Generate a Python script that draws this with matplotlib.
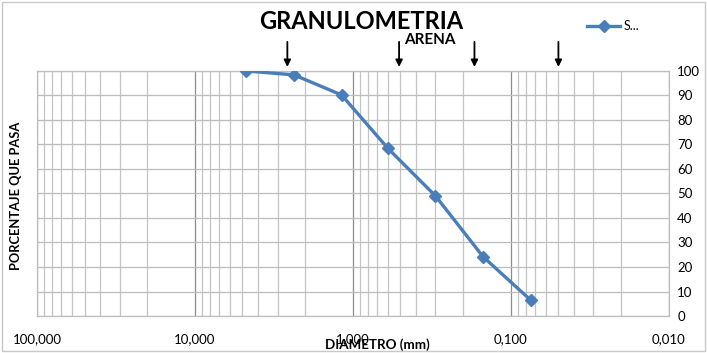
import numpy as np
import matplotlib
matplotlib.use('Agg')
import matplotlib.pyplot as plt
from matplotlib.ticker import FixedLocator, NullFormatter, LogLocator

plt.rcParams['font.family'] = ['Lato', 'DejaVu Sans']

# datos de la curva granulometrica
diametro = [4.75, 2.36, 1.18, 0.60, 0.30, 0.15, 0.075]
pasa = [100, 98.4, 90.2, 68.4, 49, 24.2, 6.5]
serie = 'S...'

x_ticks = [100, 10, 1, 0.1, 0.01]
x_labels = ['100,000', '10,000', '1,000', '0,100', '0,010']
y_ticks = list(range(0, 101, 10))
flechas = [2.6, 0.51, 0.17, 0.05]

fig = plt.figure(figsize=(7.07, 3.53), dpi=100)
ax = fig.add_axes([0.0523, 0.1048, 0.8937, 0.6942])

ax.plot(diametro, pasa, color='#4A7EBB', lw=2.4, marker='D', ms=6.5,
        label=serie, zorder=3)

ax.set_xscale('log')
ax.set_xlim(100, 0.01)
ax.set_ylim(0, 100)

ax.xaxis.set_major_locator(FixedLocator(x_ticks))
ax.set_xticklabels(x_labels)
ax.xaxis.set_minor_locator(LogLocator(base=10, subs=np.arange(2, 10)))
ax.xaxis.set_minor_formatter(NullFormatter())
ax.set_yticks(y_ticks)

ax.yaxis.tick_right()
ax.tick_params(axis='both', which='both', length=0, labelsize=9.5)
ax.tick_params(axis='x', pad=12)
ax.tick_params(axis='y', pad=6)

ax.grid(True, which='major', axis='x', color='#8c8c8c', lw=0.9)
ax.grid(True, which='minor', axis='x', color='#c4c4c4', lw=0.9)
ax.grid(True, which='major', axis='y', color='#bdbdbd', lw=0.9)
for s in ax.spines.values():
    s.set_color('#bdbdbd')
    s.set_linewidth(0.9)

ax.set_ylabel('PORCENTAJE QUE PASA', fontsize=9.3, fontweight='bold')
ax.yaxis.set_label_position('left')
ax.yaxis.set_label_coords(-0.024, 0.49)
ax.set_xlabel('DIAMETRO (mm)', fontsize=9.6, fontweight='bold')
ax.xaxis.set_label_coords(0.538, -0.092)

fig.text(0.511, 0.938, 'GRANULOMETRIA', ha='center', va='center',
         fontsize=17, fontweight='bold')
fig.text(0.608, 0.888, 'ARENA', ha='center', va='center',
         fontsize=11, fontweight='bold')

for xf in flechas:
    ax.annotate('', xy=(xf, 100.5), xytext=(xf, 113),
                xycoords='data', textcoords='data', annotation_clip=False,
                arrowprops=dict(arrowstyle='-|>', color='black', lw=1.3,
                                mutation_scale=10))

ax.legend(loc='upper left', bbox_to_anchor=(0.822, 0.96),
          bbox_transform=fig.transFigure, frameon=False, fontsize=9,
          handlelength=2.6, borderpad=0, handletextpad=0.3)

fig.patches.append(plt.Rectangle((0.003, 0.006), 0.994, 0.988,
                                 transform=fig.transFigure, fill=False,
                                 edgecolor='#c8c8c8', lw=1))

fig.savefig('out.png', dpi=100)
